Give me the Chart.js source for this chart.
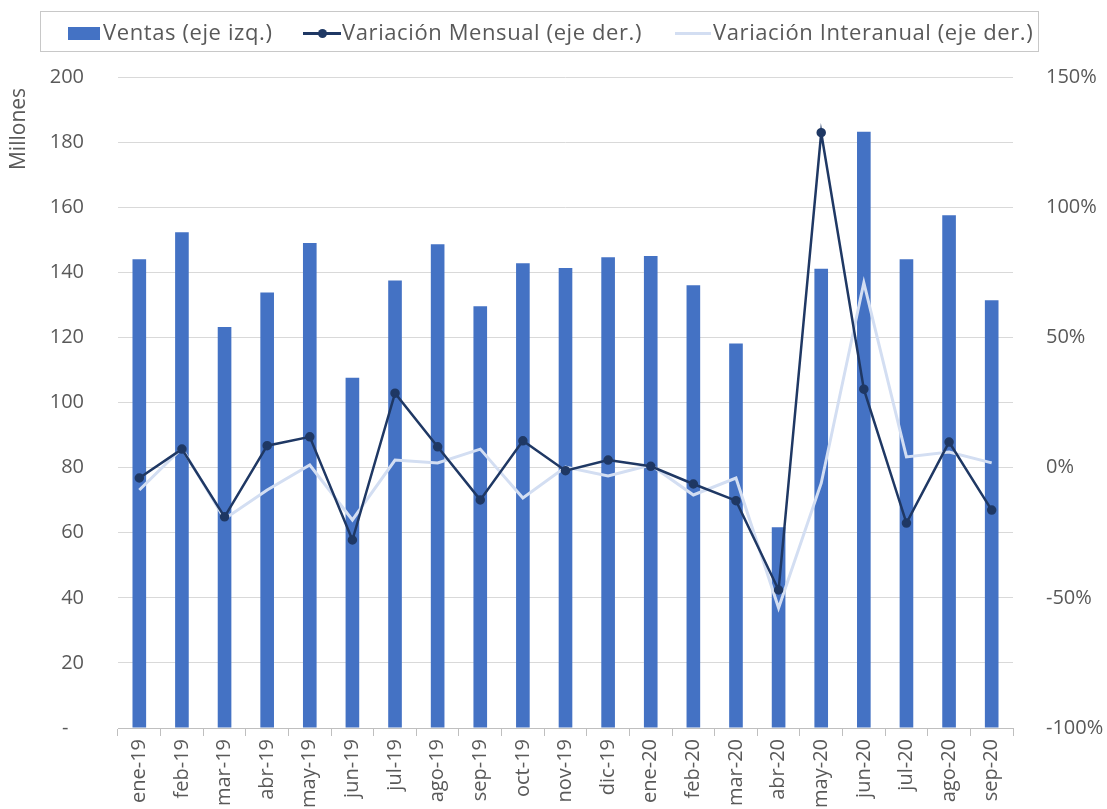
<!DOCTYPE html>
<html>
<head>
<meta charset="utf-8">
<script src="https://cdn.jsdelivr.net/npm/chart.js@4"></script>
<style>
  html, body { margin: 0; padding: 0; background: #fff; overflow: hidden; }
  #wrap { position: relative; width: 1107px; height: 809px; overflow: hidden; }
  #grafico { position: absolute; left: 0; top: 0; }
  #leyenda {
    position: absolute; left: 40px; top: 11px; width: 999px; height: 41px;
    border: 1px solid #C8C8C8; box-sizing: border-box;
    font-family: "Open Sans", sans-serif; font-size: 22px; letter-spacing: 0.6px; color: #595959; white-space: nowrap;
  }
  #leyenda span { position: absolute; top: 3px; line-height: 32px; }
  .cuadro { position: absolute; left: 27px; top: 15px; width: 32px; height: 13px; background: #4472C4; }
  .linea { position: absolute; top: 20px; height: 3px; }
  .punto { position: absolute; left: 15px; top: -3px; width: 9px; height: 9px; border-radius: 50%; background: #1F3864; }
</style>
</head>
<body>
<div id="wrap">
  <canvas id="grafico" width="1107" height="809"></canvas>
  <div id="leyenda">
    <div class="cuadro"></div><span style="left:62px">Ventas (eje izq.)</span>
    <div class="linea" style="left:262px;width:38px;background:#1F3864"><div class="punto"></div></div><span style="left:301px">Variación Mensual (eje der.)</span>
    <div class="linea" style="left:634px;width:36px;background:#D3DEF2"></div><span style="left:672px">Variación Interanual (eje der.)</span>
  </div>
</div>
<script>
// Datos
const meses = ['ene-19', 'feb-19', 'mar-19', 'abr-19', 'may-19', 'jun-19', 'jul-19', 'ago-19', 'sep-19', 'oct-19', 'nov-19',
    'dic-19', 'ene-20', 'feb-20', 'mar-20', 'abr-20', 'may-20', 'jun-20', 'jul-20', 'ago-20', 'sep-20'];

// millones
const ventas = [144, 152.3, 123.2, 133.8, 149, 107.6, 137.5, 148.6, 129.6, 142.8, 141.3,
    144.6, 145, 136, 118.1, 61.7, 141.1, 183.2, 144, 157.5, 131.4];

// porcentajes
const variacionMensual = [-4.0, 7.1, -18.9, 8.4, 11.8, -27.8, 28.6, 8.0, -12.4, 10.3, -1.2,
    2.9, 0.5, -6.3, -12.7, -47, 128.6, 30.1, -21.3, 9.8, -16.3];

const variacionInteranual = [-8.6, 7.5, -19.7, -8.6, 1.0, -20.1, 2.9, 1.8, 7.1, -11.7, 0.2,
    -3.2, 1.0, -10.5, -4.0, -53.9, -6, 71, 4.1, 6.0, 1.8];

const ticksIzq = [0, 200, 20];
const ticksDer = [-100, 150, 50];

const gris = '#595959';
const fuente = { family: 'Open Sans', size: 20 };

function montaGrafico() {
    const data = {
        labels: meses,
        datasets: [{
            type: 'line',
            label: 'Variación Mensual (eje der.)',
            data: variacionMensual,
            yAxisID: 'y1',
            borderColor: '#1F3864',
            backgroundColor: '#1F3864',
            borderWidth: 2.5,
            pointRadius: 3.5,
            pointHoverRadius: 3.5,
            tension: 0,
            order: 0
        }, {
            type: 'line',
            label: 'Variación Interanual (eje der.)',
            data: variacionInteranual,
            yAxisID: 'y1',
            borderColor: '#D3DEF2',
            backgroundColor: '#D3DEF2',
            borderWidth: 3,
            pointRadius: 0,
            tension: 0,
            order: 1
        }, {
            type: 'bar',
            label: 'Ventas (eje izq.)',
            data: ventas,
            yAxisID: 'y',
            backgroundColor: '#4472C4',
            barPercentage: 0.32,
            categoryPercentage: 1,
            order: 2
        }]
    };

    const config = {
        data: data,
        options: {
            responsive: false,
            animation: false,
            layout: { padding: { top: 77, left: 0, right: 0, bottom: 0 } },
            plugins: {
                legend: { display: false },
                tooltip: { enabled: false }
            },
            scales: {
                x: {
                    offset: true,
                    afterFit: (s) => { s.height = 81; },
                    grid: {
                        display: true,
                        offset: true,
                        drawOnChartArea: false,
                        drawTicks: true,
                        tickLength: 8,
                        color: '#BFBFBF'
                    },
                    border: { display: true, color: '#BFBFBF' },
                    ticks: {
                        color: gris,
                        font: { family: 'Open Sans', size: 20 },
                        minRotation: 90,
                        maxRotation: 90,
                        autoSkip: false,
                        padding: 3
                    }
                },
                y: {
                    position: 'left',
                    min: ticksIzq[0],
                    max: ticksIzq[1],
                    afterFit: (s) => { s.width = 118; },
                    title: {
                        display: true,
                        text: 'Millones  ',
                        align: 'end',
                        color: gris,
                        font: { family: 'Open Sans', size: 21 },
                        padding: { top: 6, bottom: 0 }
                    },
                    grid: { color: '#D9D9D9', drawTicks: false },
                    border: { display: false },
                    ticks: {
                        stepSize: ticksIzq[2],
                        color: gris,
                        font: fuente,
                        padding: 34,
                        callback: (v) => v === 0 ? '-   ' : v
                    }
                },
                y1: {
                    position: 'right',
                    min: ticksDer[0],
                    max: ticksDer[1],
                    afterFit: (s) => { s.width = 94; },
                    grid: { display: false, drawOnChartArea: false },
                    border: { display: false },
                    ticks: {
                        stepSize: ticksDer[2],
                        color: gris,
                        font: fuente,
                        padding: 25,
                        callback: (v) => v + '%'
                    }
                }
            }
        }
    };

    const grafico = new Chart(document.getElementById('grafico'), config);
    console.log(grafico.chartArea);
}

montaGrafico();
</script>
</body>
</html>
